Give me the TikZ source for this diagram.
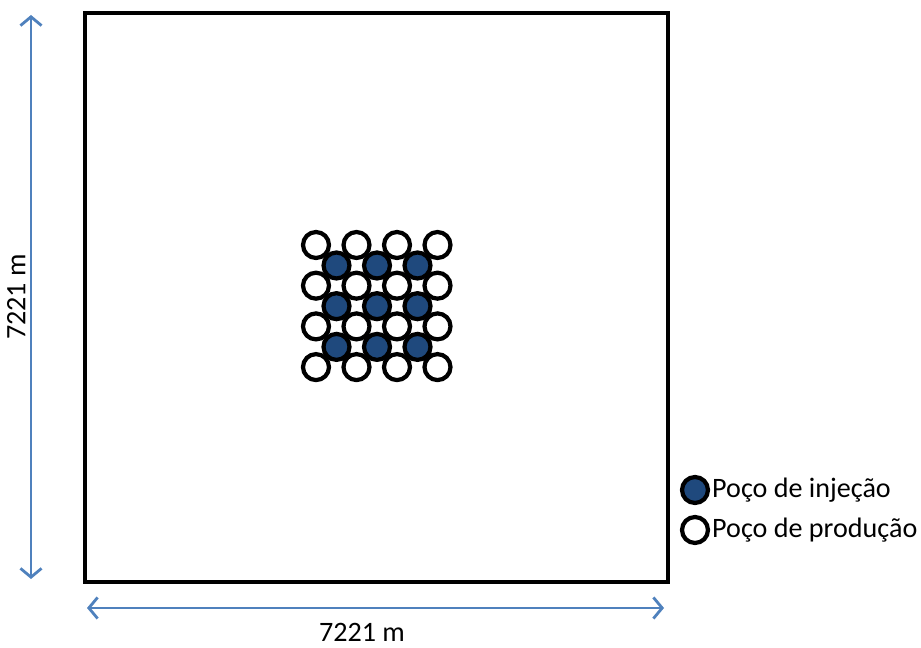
\documentclass[tikz,border=0pt]{standalone}
\usepackage{fontspec}
\setmainfont{Carlito}
\usepackage{xcolor}
\usetikzlibrary{arrows.meta, positioning}

\definecolor{injblue}{RGB}{31,73,125}
\definecolor{dimblue}{RGB}{79,129,189}

\begin{document}
\begin{tikzpicture}[x=0.02cm, y=-0.02cm,
    field/.style={draw, line width=2.3pt, rectangle, minimum width=11.66cm, minimum height=11.38cm, inner sep=0pt},
    prodwell/.style={draw, circle, line width=2.4pt, fill=white, minimum size=0.52cm, inner sep=0pt},
    injwell/.style={prodwell, fill=injblue},
    dim/.style={draw=dimblue, line width=1.6pt, {Straight Barb[length=5pt, width=12pt]}-{Straight Barb[length=5pt, width=12pt]}},
    legtext/.style={font=\fontsize{16}{19}\selectfont, inner sep=1pt, anchor=west}
]
    \useasboundingbox (0,0) rectangle (921,648);

    % reservoir
    \node[field] (res) at (376.5,297.5) {};

    % wells
    \foreach \i in {0,...,3}
        \foreach \j in {0,...,3}
            \node[prodwell] (p\i\j) at (316+40.5*\i, 245+40.7*\j) {};
    \foreach \i in {0,...,2}
        \foreach \j in {0,...,2}
            \node[injwell] (w\i\j) at (336.5+40.5*\i, 265.5+40.7*\j) {};

    % dimensions
    \coordinate (vtop) at (31,15);
    \coordinate (vbot) at (31,579);
    \coordinate (hleft) at (87,608);
    \coordinate (hright) at (664,608);
    \draw[dim] (vtop) -- (vbot) node[midway, left=-1pt, rotate=90, anchor=south, font=\fontsize{16}{19}\selectfont] (vlab) {7221 m};
    \draw[dim] (hleft) -- (hright);
    \node[font=\fontsize{16}{19}\selectfont] (hlab) at (362,632) {7221 m};

    % legend
    \node[injwell] (leginj) at (695,490) {};
    \node[legtext, right=0pt of leginj.east] (leginjtxt) {Poço de injeção};
    \node[prodwell] (legprod) at (695,530) {};
    \node[legtext, right=0pt of legprod.east] (legprodtxt) {Poço de produção};
\end{tikzpicture}
\end{document}
